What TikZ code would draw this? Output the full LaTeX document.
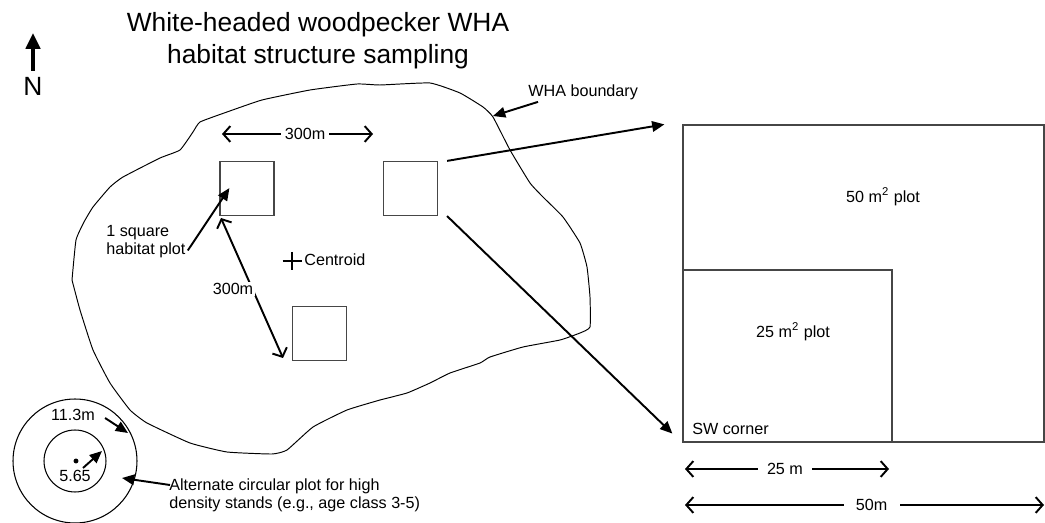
\documentclass[tikz,border=0pt]{standalone}
\usepackage{fontspec}
\setmainfont{Liberation Sans}
\usetikzlibrary{arrows.meta,calc,positioning}
\definecolor{whink}{RGB}{0,0,0}
\definecolor{whgray}{RGB}{70,70,70}

\begin{document}
\begin{tikzpicture}[
  x=0.02cm, y=-0.02cm,
  every node/.style={font=\fontsize{9.2}{10.4}\selectfont, text=whink},
  big/.style={font=\fontsize{15}{18.2}\selectfont},
  sqplot/.style={draw=whgray, line width=0.7pt, minimum size=1.08cm, inner sep=0pt},
  bigplot/.style={draw=whgray, line width=0.7pt, inner sep=0pt},
  ring/.style={draw=whink, line width=0.6pt, circle, inner sep=0pt},
  ptr/.style={-{Triangle[length=7pt,width=6pt]}, draw=whink, line width=1.1pt},
  dim/.style={{Straight Barb[length=4pt,width=9pt]}-{Straight Barb[length=4pt,width=9pt]}, draw=whink, line width=1.1pt},
  lab/.style={fill=white, inner xsep=2pt, inner ysep=1pt},
  txt/.style={align=left, inner sep=0pt}
]
  \useasboundingbox (0,0) rectangle (1045,523);

  % title and north arrow
  \node[big, align=center] (title) at (318,41) {White-headed woodpecker WHA\\habitat structure sampling};
  \coordinate (nbase) at (33,71);
  \coordinate (ntip) at (33,33);
  \draw[-{Triangle[length=9pt,width=8pt]}, line width=2.2pt] (nbase) -- (ntip);
  \node[big, inner sep=0pt] (north) at (33,86) {N};

  % WHA boundary
  \draw[line width=0.55pt] plot[smooth, tension=0.25] coordinates {
    (72,280) (76,240) (84,222) (93,207) (110,187) (123,177) (160,158) (180,150)
    (193,132) (200,122) (227,112) (262,100) (310,90) (357,84)
    (380,85) (430,83) (460,93) (483,107) (493,117) (510,150) (530,183)
    (543,197) (563,217) (580,243) (587,267) (590,297) (590,327) (580,333)
    (560,340) (523,347) (490,357) (480,363) (450,373) (430,383) (407,393)
    (380,400) (347,410) (313,427) (287,450) (272,454) (227,452) (190,443)
    (147,423) (130,410) (110,383) (93,350) (80,310) (72,280)};
  \node[txt, anchor=west] (bndlab) at (528,92) {WHA boundary};
  \coordinate (bndpt) at (493,116);
  \draw[ptr] ($(bndlab.south west)+(10,2)$) -- (bndpt);

  % habitat plots
  \node[sqplot] (sqA) at (247,188.5) {};
  \node[sqplot] (sqB) at (410.5,188.5) {};
  \node[sqplot] (sqC) at (319.5,333.5) {};

  \coordinate (dimAl) at (222,134);
  \coordinate (dimAr) at (373,134);
  \draw[dim] (dimAl) -- node[lab, pos=0.55] {300m} (dimAr);

  \coordinate (dimBt) at (221,218);
  \coordinate (dimBb) at (283,358);
  \draw[dim] (dimBt) -- (dimBb);
  \node[lab, inner xsep=1pt] (dimBlab) at (233,289) {300m};

  \node[txt, anchor=north west] (sqlab) at (106,225) {1 square\\habitat plot};
  \draw[ptr] ($(sqlab.south east)+(2,-8)$) -- ($(sqA.south west)+(10,-28)$);

  \node[inner sep=0pt] (cent) at (292,261) {};
  \draw[line width=0.6pt] ($(cent)+(-9.5,0)$) -- ($(cent)+(9.5,0)$)
    ($(cent)+(0,-9)$) -- ($(cent)+(0,9)$);
  \node[txt, anchor=west] (centlab) at (304,260) {Centroid};

  % enlarged plot
  \node[bigplot, minimum width=7.22cm, minimum height=6.34cm] (plot50) at (863.5,283.5) {};
  \node[bigplot, minimum width=4.18cm, minimum height=3.44cm] (plot25) at (787.5,356) {};
  \node (lab50) at (883,197) {50 m\textsuperscript{2} plot};
  \node (lab25) at (793,332) {25 m\textsuperscript{2} plot};
  \node[txt, anchor=west] (swlab) at (692,429) {SW corner};

  \draw[ptr] ($(sqB.north east)+(9,0)$) -- ($(plot50.north west)+(-18,0)$);
  \draw[ptr] ($(sqB.south east)+(9,0)$) -- ($(plot50.south west)+(-10,-9)$);

  \coordinate (d25l) at (685,469);
  \coordinate (d25r) at (889,469);
  \draw[dim] (d25l) -- node[lab, pos=0.49, inner xsep=5pt] {25 m} (d25r);
  \coordinate (d50l) at (685,505);
  \coordinate (d50r) at (1044,505);
  \draw[dim] (d50l) -- node[lab, pos=0.52, inner xsep=7pt] {50m} (d50r);

  % circular plot
  \node[ring, minimum size=2.48cm] (outer) at (75,461) {};
  \node[ring, minimum size=1.24cm] (inner) at (75,461) {};
  \fill (76,461) circle (1.4pt);
  \node (rin) at (75,476) {5.65};
  \draw[ptr] (83,468) -- (102,451);
  \node (rout) at (73,415) {11.3m};
  \draw[ptr] ($(rout.east)+(4,3)$) -- (128,433);
  \node[txt, anchor=north west] (altlab) at (169,478) {Alternate circular plot for high\\density stands (e.g., age class 3-5)};
  \draw[ptr] ($(altlab.north west)+(1,7)$) -- (122,478);
\end{tikzpicture}
\end{document}
